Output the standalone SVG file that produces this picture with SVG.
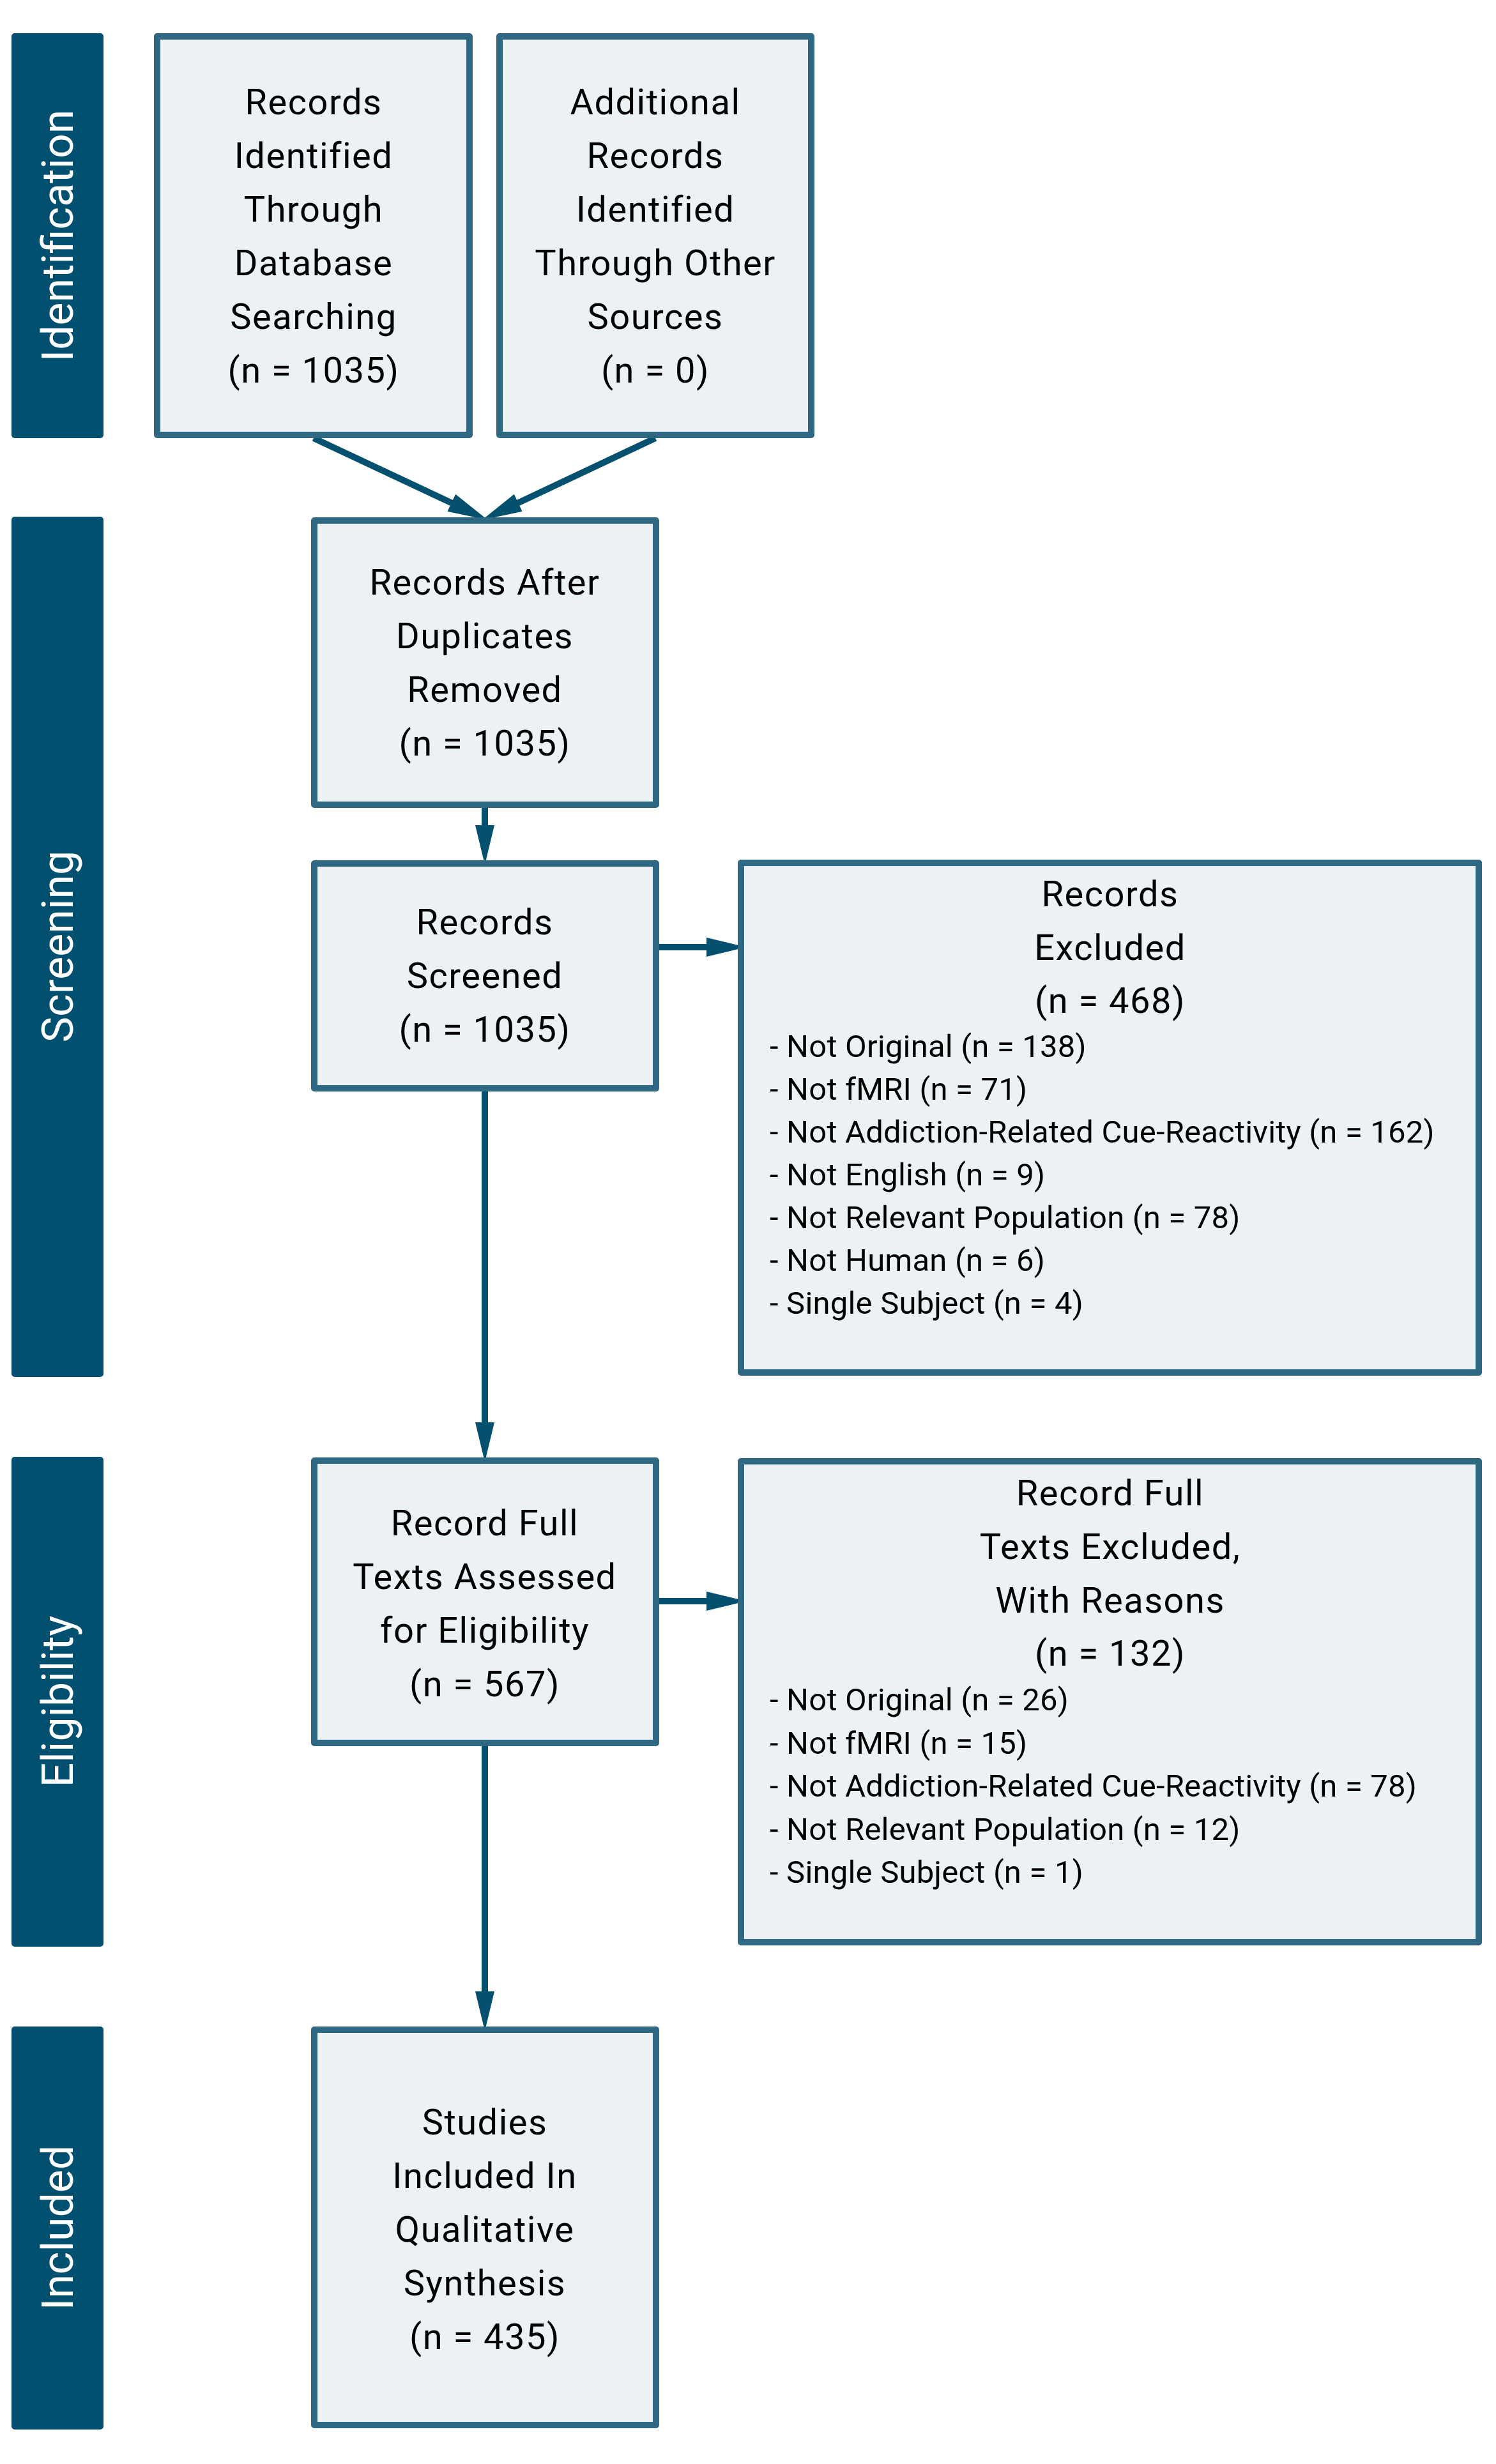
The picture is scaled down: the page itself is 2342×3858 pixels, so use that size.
<svg xmlns="http://www.w3.org/2000/svg" width="2342" height="3858" viewBox="0 0 2342 3858">
<style>
.bar{fill:#02506f}
.bt{font-family:Roboto,"Liberation Sans",sans-serif;font-size:68px;fill:#ffffff;text-anchor:middle}
.box{fill:#ecf1f4;stroke:#2e6883;stroke-width:10;stroke-linejoin:round}
.t{font-family:Roboto,"Liberation Sans",sans-serif;font-size:56px;fill:#000;text-anchor:middle;letter-spacing:1.5px}
.li{font-family:Roboto,"Liberation Sans",sans-serif;font-size:49px;fill:#000;letter-spacing:0.2px}
.conn{fill:none;stroke:#03506f;stroke-width:10;marker-end:url(#ah)}
</style>
<defs>
<marker id="ah" markerUnits="userSpaceOnUse" viewBox="0 0 58 30" refX="18" refY="15" markerWidth="58" markerHeight="30" orient="auto">
<path d="M0,0 L58,14 Q60,15 58,16 L0,30 Z" fill="#03506f"/>
</marker>
</defs>
<rect width="2342" height="3858" fill="#ffffff"/>
<g id="phase-identification"><rect class="bar" x="18" y="52" width="144" height="634" rx="5"/><text class="bt" transform="translate(114,369) rotate(-90)">Identification</text></g>
<g id="phase-screening"><rect class="bar" x="18" y="809" width="144" height="1347" rx="5"/><text class="bt" transform="translate(114,1482) rotate(-90)">Screening</text></g>
<g id="phase-eligibility"><rect class="bar" x="18" y="2281" width="144" height="767" rx="5"/><text class="bt" transform="translate(114,2664) rotate(-90)">Eligibility</text></g>
<g id="phase-included"><rect class="bar" x="18" y="3173" width="144" height="631" rx="5"/><text class="bt" transform="translate(114,3488) rotate(-90)">Included</text></g>

<g id="connectors">
<path class="conn" d="M491,686 L723,795"/>
<path class="conn" d="M1026,686 L795,795"/>
<path class="conn" d="M759,1265 L759,1310"/>
<path class="conn" d="M1032,1483 L1124,1483"/>
<path class="conn" d="M759,1709 L759,2245"/>
<path class="conn" d="M1032,2507 L1124,2507"/>
<path class="conn" d="M759,2734 L759,3136"/>
</g>

<g id="n1"><rect class="box" x="246" y="57" width="489" height="624"/>
<text class="t" x="491" y="179">Records</text><text class="t" x="491" y="263">Identified</text><text class="t" x="491" y="347">Through</text><text class="t" x="491" y="431">Database</text><text class="t" x="491" y="515">Searching</text><text class="t" x="491" y="599">(n = 1035)</text></g>
<g id="n2"><rect class="box" x="782" y="57" width="488" height="624"/>
<text class="t" x="1026" y="179">Additional</text><text class="t" x="1026" y="263">Records</text><text class="t" x="1026" y="347">Identified</text><text class="t" x="1026" y="431">Through Other</text><text class="t" x="1026" y="515">Sources</text><text class="t" x="1026" y="599">(n = 0)</text></g>
<g id="n3"><rect class="box" x="492" y="815" width="535" height="445"/>
<text class="t" x="759" y="931">Records After</text><text class="t" x="759" y="1015">Duplicates</text><text class="t" x="759" y="1099">Removed</text><text class="t" x="759" y="1183">(n = 1035)</text></g>
<g id="n4"><rect class="box" x="492" y="1352" width="535" height="352"/>
<text class="t" x="759" y="1463">Records</text><text class="t" x="759" y="1547">Screened</text><text class="t" x="759" y="1631">(n = 1035)</text></g>
<g id="n5"><rect class="box" x="1160" y="1351" width="1155" height="798"/>
<text class="t" x="1738" y="1419">Records</text><text class="t" x="1738" y="1503">Excluded</text><text class="t" x="1738" y="1586">(n = 468)</text>
<text class="li" x="1205" y="1655">- Not Original (n = 138)</text>
<text class="li" x="1205" y="1722">- Not fMRI (n = 71)</text>
<text class="li" x="1205" y="1789">- Not Addiction-Related Cue-Reactivity (n = 162)</text>
<text class="li" x="1205" y="1856">- Not English (n = 9)</text>
<text class="li" x="1205" y="1923">- Not Relevant Population (n = 78)</text>
<text class="li" x="1205" y="1990">- Not Human (n = 6)</text>
<text class="li" x="1205" y="2057">- Single Subject (n = 4)</text></g>
<g id="n6"><rect class="box" x="492" y="2287" width="535" height="442"/>
<text class="t" x="759" y="2404">Record Full</text><text class="t" x="759" y="2488">Texts Assessed</text><text class="t" x="759" y="2572">for Eligibility</text><text class="t" x="759" y="2656">(n = 567)</text></g>
<g id="n7"><rect class="box" x="1160" y="2288" width="1155" height="753"/>
<text class="t" x="1738" y="2357">Record Full</text><text class="t" x="1738" y="2441">Texts Excluded,</text><text class="t" x="1738" y="2525">With Reasons</text><text class="t" x="1738" y="2608">(n = 132)</text>
<text class="li" x="1205" y="2678">- Not Original (n = 26)</text>
<text class="li" x="1205" y="2746">- Not fMRI (n = 15)</text>
<text class="li" x="1205" y="2813">- Not Addiction-Related Cue-Reactivity (n = 78)</text>
<text class="li" x="1205" y="2881">- Not Relevant Population (n = 12)</text>
<text class="li" x="1205" y="2948">- Single Subject (n = 1)</text></g>
<g id="n8"><rect class="box" x="492" y="3178" width="535" height="619"/>
<text class="t" x="759" y="3342">Studies</text><text class="t" x="759" y="3426">Included In</text><text class="t" x="759" y="3510">Qualitative</text><text class="t" x="759" y="3594">Synthesis</text><text class="t" x="759" y="3678">(n = 435)</text></g>
</svg>
